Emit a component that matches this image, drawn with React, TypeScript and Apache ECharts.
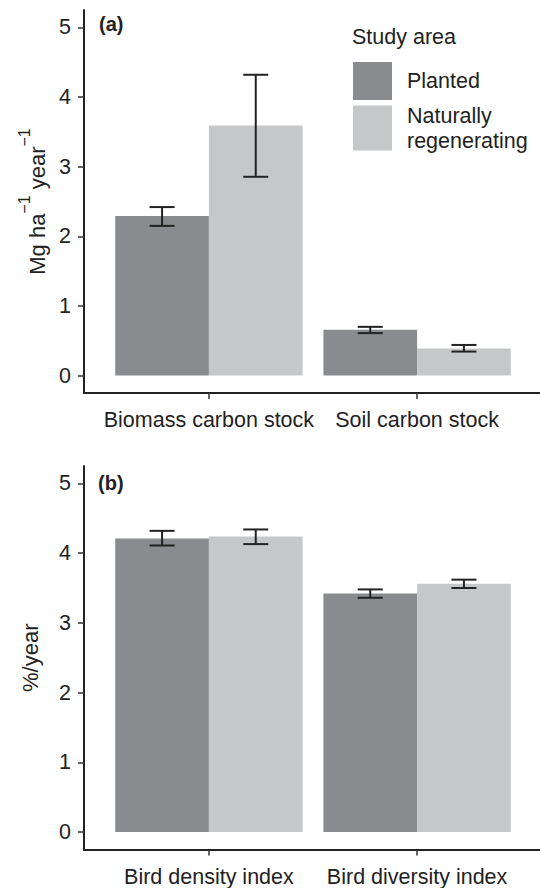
import React, { useEffect, useRef } from 'react';
import * as echarts from 'echarts';

// ---- data ----
const categoriesA = ['Biomass carbon stock', 'Soil carbon stock'];
const categoriesB = ['Bird density index', 'Bird diversity index'];
const groupNames = ['Planted', 'Naturally regenerating'];
const yTicks = [0, 1, 2, 3, 4, 5];

const plantedA = [2.29, 0.66];
const plantedALow = [2.15, 0.61];
const plantedAHigh = [2.42, 0.7];
const naturalA = [3.59, 0.39];
const naturalALow = [2.855, 0.345];
const naturalAHigh = [4.32, 0.44];

const plantedB = [4.21, 3.42];
const plantedBLow = [4.11, 3.36];
const plantedBHigh = [4.32, 3.48];
const naturalB = [4.24, 3.56];
const naturalBLow = [4.13, 3.5];
const naturalBHigh = [4.34, 3.62];

// ---- styling ----
const FONT = "'Liberation Sans', Arial, Helvetica, sans-serif";
const DARK = '#8a8b8f';
const LIGHT = '#c6c7c9';
const INK = '#222222';
const W = 540;
const H = 888;
const GRID_LEFT = 84;
const GRID_RIGHT = -2;
const PLOT_W = W - GRID_LEFT - GRID_RIGHT;
const X_MIN = 0.4;
const X_MAX = 2.6;
const BAR_W = (PLOT_W * 0.45) / (X_MAX - X_MIN);
const CAP = 12.5;

const xy = (vals: number[]) => vals.map((v, i) => [i + 1, v]);
const err = (lo: number[], hi: number[], side: number) =>
  lo.map((l, i) => [i + 1, l, hi[i], side]);

function makeXAxis(gridIndex: number, cats: string[]) {
  return {
    type: 'value',
    gridIndex,
    min: X_MIN,
    max: X_MAX,
    splitLine: { show: false },
    axisLine: { show: true, onZero: false, lineStyle: { color: INK, width: 2 } },
    axisTick: { show: true, customValues: [1, 2], length: 6, lineStyle: { color: '#333', width: 1.5 } },
    axisLabel: {
      customValues: [1, 2],
      formatter: (v: number) => cats[Math.round(v) - 1] ?? '',
      fontFamily: FONT,
      fontSize: 21.5,
      color: INK,
      margin: 16,
    },
  };
}

function makeYAxis(gridIndex: number, name: string, rich: any, nameGap: number) {
  return {
    type: 'value',
    gridIndex,
    min: -0.25,
    max: 5.25,
    splitLine: { show: false },
    axisLine: { show: true, onZero: false, lineStyle: { color: INK, width: 2 } },
    axisTick: { show: true, customValues: yTicks, length: 6, lineStyle: { color: '#333', width: 1.5 } },
    axisLabel: {
      customValues: yTicks,
      fontFamily: FONT,
      fontSize: 21.5,
      color: INK,
      margin: 13,
    },
    name,
    nameLocation: 'middle',
    nameRotate: 90,
    nameGap,
    nameTextStyle: { fontFamily: FONT, fontSize: 22, color: INK, rich },
  };
}

function barSeries(name: string, gi: number, data: number[], color: string) {
  return {
    type: 'bar',
    name,
    xAxisIndex: gi,
    yAxisIndex: gi,
    data: xy(data),
    barWidth: BAR_W,
    barGap: '0%',
    itemStyle: { color },
    emphasis: { disabled: true },
    z: 2,
  };
}

function errSeries(gi: number, data: number[][]) {
  return {
    type: 'custom',
    xAxisIndex: gi,
    yAxisIndex: gi,
    data,
    z: 5,
    silent: true,
    renderItem: (params: any, api: any) => {
      const x = api.value(0);
      const lo = api.value(1);
      const hi = api.value(2);
      const side = api.value(3);
      const pHi = api.coord([x, hi]);
      const pLo = api.coord([x, lo]);
      const cx = pHi[0] + (side * BAR_W) / 2;
      const st = { stroke: INK, lineWidth: 2, fill: null };
      return {
        type: 'group',
        children: [
          { type: 'line', shape: { x1: cx, y1: pHi[1], x2: cx, y2: pLo[1] }, style: st },
          { type: 'line', shape: { x1: cx - CAP, y1: pHi[1], x2: cx + CAP, y2: pHi[1] }, style: st },
          { type: 'line', shape: { x1: cx - CAP, y1: pLo[1], x2: cx + CAP, y2: pLo[1] }, style: st },
        ],
      };
    },
  };
}

export default function App() {
  const ref = useRef<HTMLDivElement>(null);
  useEffect(() => {
    if (!ref.current) return;
    const chart = echarts.init(ref.current, undefined, { renderer: 'svg' });
    const richA = {
      a: { fontFamily: FONT, fontSize: 22, color: INK, lineHeight: 32, verticalAlign: 'bottom' },
      s: { fontFamily: FONT, fontSize: 16, color: INK, lineHeight: 8, verticalAlign: 'top' },
    };
    chart.setOption({
      animation: false,
      backgroundColor: '#ffffff',
      textStyle: { fontFamily: FONT },
      grid: [
        { left: GRID_LEFT, right: GRID_RIGHT, top: 10, height: 383, outerBoundsMode: 'none', containLabel: false },
        { left: GRID_LEFT, right: GRID_RIGHT, top: 466, height: 383.5, outerBoundsMode: 'none', containLabel: false },
      ],
      xAxis: [makeXAxis(0, categoriesA), makeXAxis(1, categoriesB)],
      yAxis: [
        makeYAxis(0, '{a|Mg ha}{s|\u22121}{a| year}{s|\u22121}', richA, 36),
        makeYAxis(1, '%/year', undefined, 43),
      ],
      legend: [
        {
          data: [groupNames[0]],
          left: 353,
          top: 62,
          itemWidth: 39,
          itemHeight: 38,
          icon: 'rect',
          selectedMode: false,
          padding: 0,
          textStyle: { fontFamily: FONT, fontSize: 21.5, color: INK, padding: [0, 0, 0, 10] },
        },
        {
          data: [groupNames[1]],
          left: 353,
          top: 103,
          itemWidth: 39,
          itemHeight: 45,
          icon: 'rect',
          selectedMode: false,
          padding: 0,
          formatter: () => 'Naturally\nregenerating',
          textStyle: { fontFamily: FONT, fontSize: 21.5, lineHeight: 25, color: INK, padding: [0, 0, 0, 10] },
        },
      ],
      graphic: [
        { type: 'text', x: 352, y: 37, style: { text: 'Study area', font: `21.5px ${FONT}`, fill: INK, verticalAlign: 'middle' } },
        { type: 'text', x: 99, y: 24, style: { text: '(a)', font: `bold 20px ${FONT}`, fill: INK, verticalAlign: 'middle' } },
        { type: 'text', x: 98, y: 483, style: { text: '(b)', font: `bold 20px ${FONT}`, fill: INK, verticalAlign: 'middle' } },
      ],
      series: [
        barSeries(groupNames[0], 0, plantedA, DARK),
        barSeries(groupNames[1], 0, naturalA, LIGHT),
        errSeries(0, err(plantedALow, plantedAHigh, -1)),
        errSeries(0, err(naturalALow, naturalAHigh, 1)),
        barSeries(groupNames[0], 1, plantedB, DARK),
        barSeries(groupNames[1], 1, naturalB, LIGHT),
        errSeries(1, err(plantedBLow, plantedBHigh, -1)),
        errSeries(1, err(naturalBLow, naturalBHigh, 1)),
      ],
    });
    return () => chart.dispose();
  }, []);
  return (
    <div
      ref={ref}
      style={{ position: 'absolute', left: 0, top: 0, width: W, height: H }}
    />
  );
}
